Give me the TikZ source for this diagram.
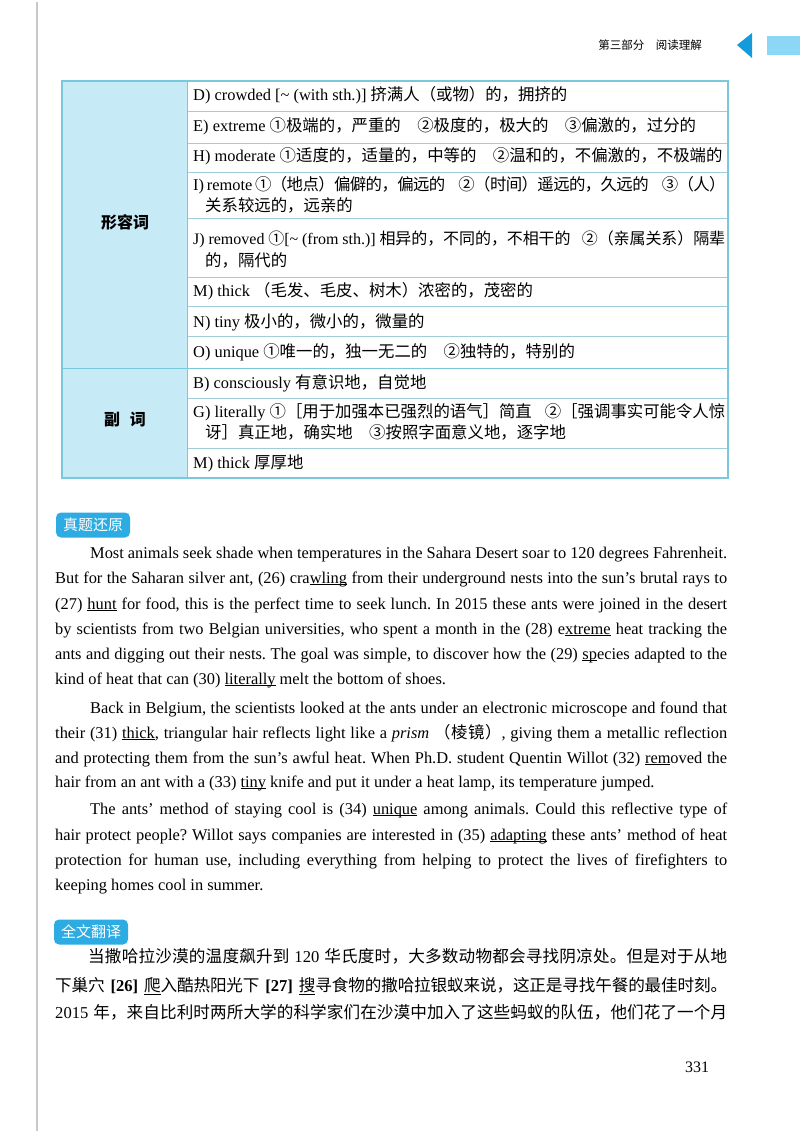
\documentclass[tikz,border=0pt]{standalone}
\usepackage{fontspec}
\setmainfont{Liberation Serif}
\newfontfamily\cjk{Noto Sans CJK SC}
\newcommand\zh[1]{{\cjk #1}}
\newcommand\en[1]{{\rmfamily #1}}
\newcommand\undl[1]{\underline{\smash{#1}}}
\frenchspacing
% inter-character glue between CJK characters, so justified lines stretch evenly
\XeTeXinterchartokenstate=1
\newXeTeXintercharclass\cjkcls
\newcount\cjkcnt
\newcommand\cjkrange[2]{%
  \cjkcnt=#1\relax
  \loop
    \XeTeXcharclass\cjkcnt=\cjkcls
    \advance\cjkcnt by 1\relax
  \ifnum\cjkcnt<#2\repeat}
\cjkrange{"4E00}{"A000}
\cjkrange{"3000}{"3040}
\cjkrange{"FF00}{"FFF0}
\cjkrange{"2460}{"2500}
\XeTeXinterchartoks\cjkcls\cjkcls={\hskip0pt plus 2pt minus 0.6pt\relax}
\definecolor{tabfill}{RGB}{198,235,247}
\definecolor{tabline}{RGB}{120,200,222}
\definecolor{rowline}{RGB}{160,205,220}
\definecolor{tagblue}{RGB}{45,172,228}
\definecolor{headblue}{RGB}{20,155,220}
\definecolor{headlight}{RGB}{140,215,245}
\definecolor{spine}{RGB}{200,200,200}
\tikzset{
  rowtext/.style={anchor=base west,inner sep=0pt,font=\fontsize{16.4}{18}\selectfont},
  bodytext/.style={anchor=base west,inner sep=0pt,font=\fontsize{16.4}{18}\selectfont},
  cjktext/.style={anchor=base west,inner sep=0pt,font=\cjk\fontsize{16.6}{18}\selectfont},
  tagbox/.style={fill=tagblue,rounded corners=5pt,text=white,minimum width=74pt,minimum height=25pt,inner sep=0pt,font=\cjk\fontsize{15}{16}\selectfont},
  catlabel/.style={font=\cjk\bfseries\fontsize{16}{18}\selectfont}
}
\begin{document}
\begin{tikzpicture}[x=1pt,y=-1pt]
\useasboundingbox (0,0) rectangle (800,1131);
\fill[white] (0,0) rectangle (800,1131);
% spine line
\draw[spine,line width=2pt] (37,2) -- (37,1131);
% header
\node[inner sep=0pt,font=\cjk\fontsize{11.5}{12}\selectfont] (head) at (650,45) {第三部分\hspace{1em}阅读理解};
\fill[headblue] (737,45) -- (752,33) -- (752,58) -- cycle;
\fill[headlight] (767,36) rectangle (800,55);
% table
\fill[tabfill] (62,81) rectangle (187,478);
\foreach \yy in {111,143,172,218,277,306,336,398,448}
  \draw[rowline,line width=0.8pt] (187,\yy) -- (728,\yy);
\draw[tabline,line width=0.8pt] (62,368) -- (728,368);
\draw[tabline,line width=0.8pt] (187,81) -- (187,478);
\draw[tabline,line width=1.2pt] (62,81) rectangle (728,478);
\node[catlabel] (adj) at (125,222) {形容词};
\node[catlabel] (adv) at (125,420) {副\hspace{0.6em}词};
\node[rowtext] (rD) at (193,101) {D) crowded [\textasciitilde{} (with sth.)] \zh{挤满人（或物）的，拥挤的}};
\node[rowtext] (rE) at (193,132) {E) extreme \zh{①极端的，严重的\hspace{1em}②极度的，极大的\hspace{1em}③偏激的，过分的}};
\node[rowtext] (rH) at (193,162) {H) moderate \zh{①适度的，适量的，中等的\hspace{1em}②温和的，不偏激的，不极端的}};
\node[rowtext] (rI1) at (193,191) {\makebox[532pt][s]{I) remote \zh{①（地点）偏僻的，偏远的\hspace{0.8em}②（时间）遥远的，久远的\hspace{0.8em}③（人）}}};
\node[rowtext] (rI2) at (205,212) {\zh{关系较远的，远亲的}};
\node[rowtext,font=\fontsize{16}{18}\selectfont] (rJ1) at (193,245) {\makebox[532pt][s]{J) removed \zh{①}[\textasciitilde{} (from sth.)] \zh{相异的，不同的，不相干的\hspace{0.7em}②（亲属关系）隔辈}}};
\node[rowtext] (rJ2) at (205,267) {\zh{的，隔代的}};
\node[rowtext] (rM) at (193,296) {M) thick \zh{（毛发、毛皮、树木）浓密的，茂密的}};
\node[rowtext] (rN) at (193,327) {N) tiny \zh{极小的，微小的，微量的}};
\node[rowtext] (rO) at (193,357) {O) unique \zh{①唯一的，独一无二的\hspace{1em}②独特的，特别的}};
\node[rowtext] (rB) at (193,388) {B) consciously \zh{有意识地，自觉地}};
\node[rowtext] (rG1) at (193,417) {\makebox[532pt][s]{G) literally \zh{①［用于加强本已强烈的语气］简直\hspace{0.8em}②［强调事实可能令人惊}}};
\node[rowtext] (rG2) at (205,438) {\zh{讶］真正地，确实地\hspace{1em}③按照字面意义地，逐字地}};
\node[rowtext] (rM2) at (193,468) {M) thick \zh{厚厚地}};
% tag 1
\node[tagbox] (tag1) at (93,525) {真题还原};
% paragraph 1
\node[bodytext] (p1a) at (90,558) {\makebox[637pt][s]{Most animals seek shade when temperatures in the Sahara Desert soar to 120 degrees Fahrenheit.}};
\node[bodytext] (p1b) at (55,583) {\makebox[672pt][s]{But for the Saharan silver ant, (26) cra\undl{wling} from their underground nests into the sun's brutal rays to}};
\node[bodytext] (p1c) at (55,609) {\makebox[672pt][s]{(27) \undl{hunt} for food, this is the perfect time to seek lunch. In 2015 these ants were joined in the desert}};
\node[bodytext] (p1d) at (55,634) {\makebox[672pt][s]{by scientists from two Belgian universities, who spent a month in the (28) e\undl{xtreme} heat tracking the}};
\node[bodytext] (p1e) at (55,659) {\makebox[672pt][s]{ants and digging out their nests. The goal was simple, to discover how the (29) \undl{sp}ecies adapted to the}};
\node[bodytext] (p1f) at (55,684) {kind of heat that can (30) \undl{literally} melt the bottom of shoes.};
% paragraph 2
\node[bodytext] (p2a) at (90,713) {\makebox[637pt][s]{Back in Belgium, the scientists looked at the ants under an electronic microscope and found that}};
\node[bodytext] (p2b) at (55,738) {\makebox[672pt][s]{their (31) \undl{thick}, triangular hair reflects light like a \textit{prism} \zh{（棱镜）}, giving them a metallic reflection}};
\node[bodytext] (p2c) at (55,763) {\makebox[672pt][s]{and protecting them from the sun's awful heat. When Ph.D. student Quentin Willot (32) \undl{rem}oved the}};
\node[bodytext] (p2d) at (55,787) {hair from an ant with a (33) \undl{tiny} knife and put it under a heat lamp, its temperature jumped.};
% paragraph 3
\node[bodytext] (p3a) at (90,814) {\makebox[637pt][s]{The ants' method of staying cool is (34) \undl{unique} among animals. Could this reflective type of}};
\node[bodytext] (p3b) at (55,840) {\makebox[672pt][s]{hair protect people? Willot says companies are interested in (35) \undl{adapting} these ants' method of heat}};
\node[bodytext] (p3c) at (55,865) {\makebox[672pt][s]{protection for human use, including everything from helping to protect the lives of firefighters to}};
\node[bodytext] (p3d) at (55,890) {keeping homes cool in summer.};
% tag 2
\node[tagbox] (tag2) at (91,932) {全文翻译};
% translation
\node[cjktext] (c1) at (88,962) {\makebox[639pt][s]{当撒哈拉沙漠的温度飙升到\hspace{0.3em}\en{120}\hspace{0.3em}华氏度时，大多数动物都会寻找阴凉处。但是对于从地}};
\node[cjktext] (c2) at (55,991) {\makebox[672pt][s]{下巢穴\hspace{0.35em}\en{\textbf{[26]}}\hspace{0.35em}\underline{爬}入酷热阳光下\hspace{0.35em}\en{\textbf{[27]}}\hspace{0.35em}\underline{搜}寻食物的撒哈拉银蚁来说，这正是寻找午餐的最佳时刻。}};
\node[cjktext] (c3) at (55,1018) {\makebox[672pt][s]{\en{2015}\hspace{0.3em}年，来自比利时两所大学的科学家们在沙漠中加入了这些蚂蚁的队伍，他们花了一个月}};
% page number
\node[inner sep=0pt,font=\fontsize{16}{16}\selectfont] (page) at (697,1067) {331};
\end{tikzpicture}
\end{document}
